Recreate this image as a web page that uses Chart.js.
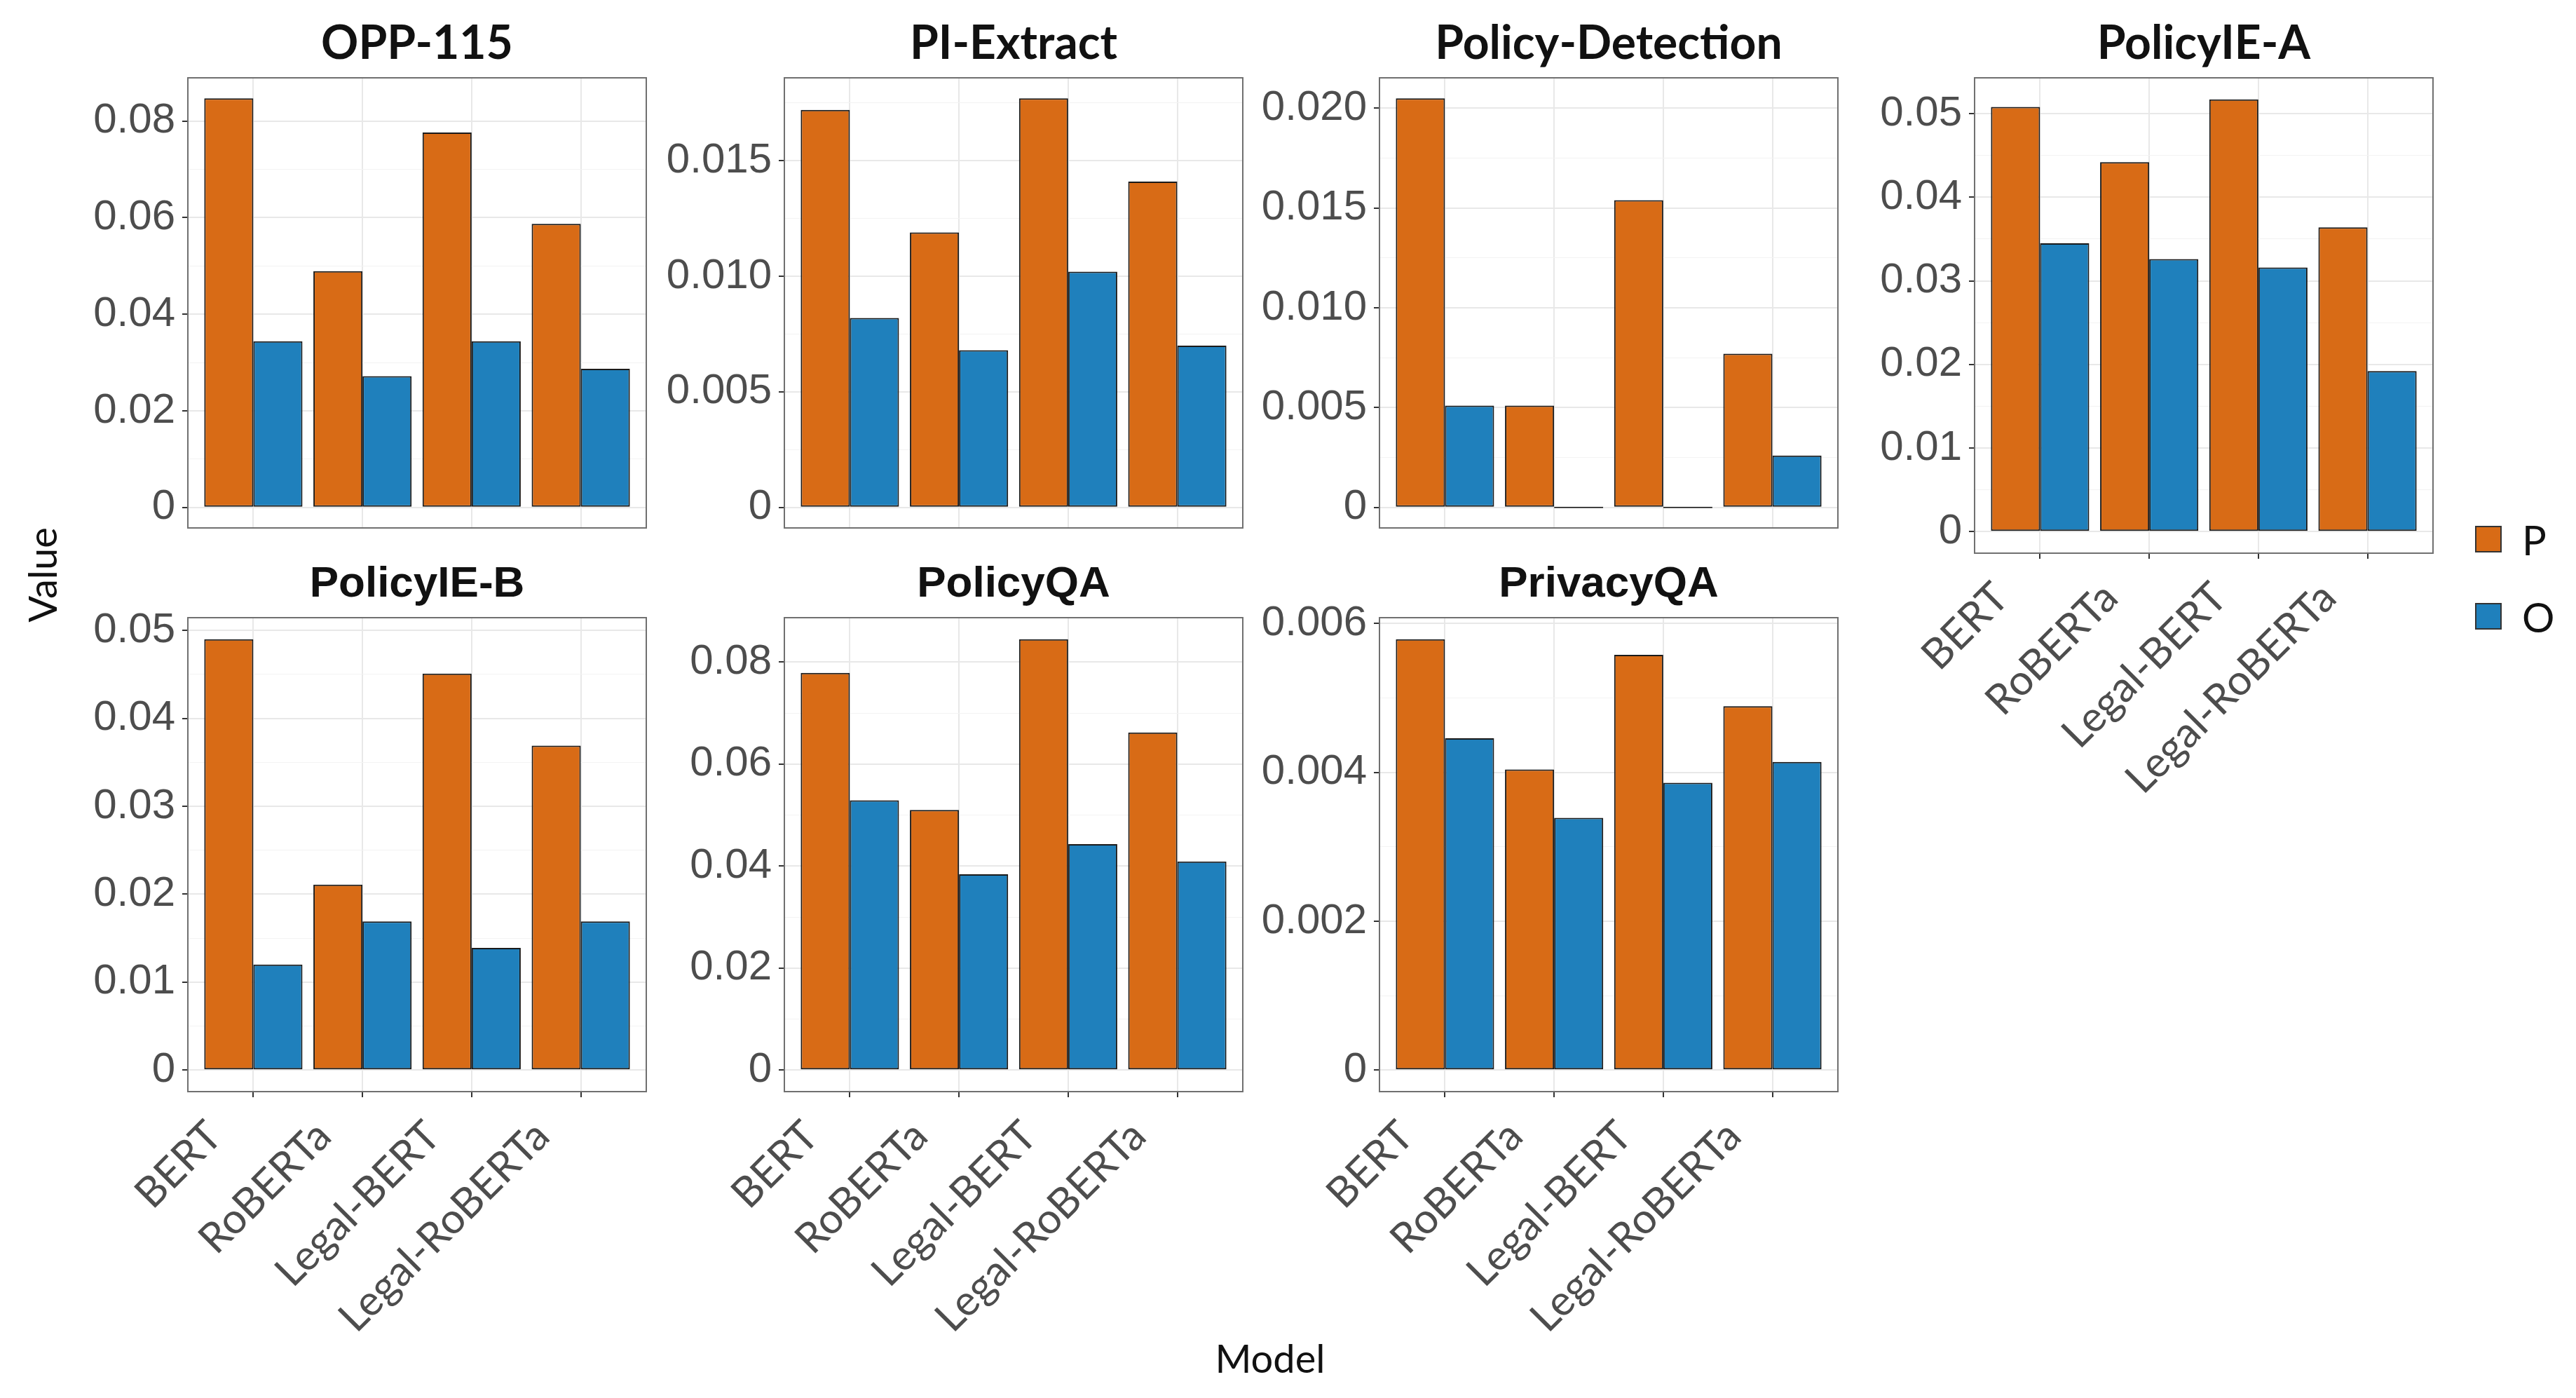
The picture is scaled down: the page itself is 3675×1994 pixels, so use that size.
<!DOCTYPE html>
<html>
<head>
<meta charset="utf-8">
<script src="https://cdn.jsdelivr.net/npm/chart.js@4.4.1/dist/chart.umd.min.js"></script>
<style>
html,body{margin:0;padding:0;background:#fff;width:3675px;height:1994px;overflow:hidden;position:relative;}
canvas{position:absolute;}
.lbl{position:absolute;font-family:Lato,"Open Sans",sans-serif;color:#111;white-space:nowrap;}
.key{position:absolute;box-sizing:border-box;border:2px solid #333;}
</style>
</head>
<body>
<div class="lbl" id="ylab" style="left:59px;top:820px;font-size:56px;transform:translate(-50%,-50%) rotate(-90deg);">Value</div>
<div class="lbl" id="xlab" style="left:1812px;top:1936px;font-size:56px;transform:translate(-50%,-50%);">Model</div>
<div class="key" id="keyP" style="left:3531px;top:750px;width:38px;height:38px;"></div>
<div class="key" id="keyO" style="left:3531px;top:860px;width:38px;height:38px;"></div>
<div class="lbl" id="legP" style="left:3598px;top:769px;font-size:58px;transform:translateY(-50%);"></div>
<div class="lbl" id="legO" style="left:3598px;top:879px;font-size:58px;transform:translateY(-50%);"></div>
<script>
// ---------------- data ----------------
const models = ['BERT', 'RoBERTa', 'Legal-BERT', 'Legal-RoBERTa'];
const seriesLabels = ['P', 'O'];
const panelNames = ['OPP-115', 'PI-Extract', 'Policy-Detection', 'PolicyIE-A', 'PolicyIE-B', 'PolicyQA', 'PrivacyQA'];

const opp115_P = [0.0847, 0.0489, 0.0776, 0.0587];
const opp115_O = [0.0344, 0.0272, 0.0344, 0.0287];
const piExtract_P = [0.0172, 0.0119, 0.0177, 0.0141];
const piExtract_O = [0.0082, 0.0068, 0.0102, 0.0070];
const policyDetection_P = [0.0205, 0.0051, 0.0154, 0.0077];
const policyDetection_O = [0.0051, 0, 0, 0.0026];
const policyIEA_P = [0.0508, 0.0442, 0.0517, 0.0364];
const policyIEA_O = [0.0345, 0.0326, 0.0316, 0.0192];
const policyIEB_P = [0.0490, 0.0211, 0.0451, 0.0369];
const policyIEB_O = [0.0120, 0.0169, 0.0139, 0.0169];
const policyQA_P = [0.0779, 0.0510, 0.0845, 0.0662];
const policyQA_O = [0.0529, 0.0384, 0.0443, 0.0409];
const privacyQA_P = [0.00579, 0.00404, 0.00558, 0.00489];
const privacyQA_O = [0.00446, 0.00339, 0.00386, 0.00414];

const opp115_ticks = [0, 0.02, 0.04, 0.06, 0.08];
const opp115_tickLabels = ['0', '0.02', '0.04', '0.06', '0.08'];
const piExtract_ticks = [0, 0.005, 0.010, 0.015];
const piExtract_tickLabels = ['0', '0.005', '0.010', '0.015'];
const policyDetection_ticks = [0, 0.005, 0.010, 0.015, 0.020];
const policyDetection_tickLabels = ['0', '0.005', '0.010', '0.015', '0.020'];
const policyIEA_ticks = [0, 0.01, 0.02, 0.03, 0.04, 0.05];
const policyIEA_tickLabels = ['0', '0.01', '0.02', '0.03', '0.04', '0.05'];
const policyIEB_ticks = [0, 0.01, 0.02, 0.03, 0.04, 0.05];
const policyIEB_tickLabels = ['0', '0.01', '0.02', '0.03', '0.04', '0.05'];
const policyQA_ticks = [0, 0.02, 0.04, 0.06, 0.08];
const policyQA_tickLabels = ['0', '0.02', '0.04', '0.06', '0.08'];
const privacyQA_ticks = [0, 0.002, 0.004, 0.006];
const privacyQA_tickLabels = ['0', '0.002', '0.004', '0.006'];

// ---------------- styles / layout ----------------
const COLORS = ['#D86B16', '#1F80BC'];
const BAR_BORDER = '#1a1a1a';
const TICK_FONT = {family: '"Liberation Sans", Arial, sans-serif', size: 60};
const XTICK_FONT = {family: 'Lato, sans-serif', size: 60};
const TICK_COLOR = '#4d4d4d';

document.getElementById('keyP').style.background = COLORS[0];
document.getElementById('keyO').style.background = COLORS[1];
document.getElementById('legP').textContent = seriesLabels[0];
document.getElementById('legO').textContent = seriesLabels[1];

const panels = [
  {P: opp115_P, O: opp115_O, ticks: opp115_ticks, labels: opp115_tickLabels},
  {P: piExtract_P, O: piExtract_O, ticks: piExtract_ticks, labels: piExtract_tickLabels},
  {P: policyDetection_P, O: policyDetection_O, ticks: policyDetection_ticks, labels: policyDetection_tickLabels},
  {P: policyIEA_P, O: policyIEA_O, ticks: policyIEA_ticks, labels: policyIEA_tickLabels},
  {P: policyIEB_P, O: policyIEB_O, ticks: policyIEB_ticks, labels: policyIEB_tickLabels},
  {P: policyQA_P, O: policyQA_O, ticks: policyQA_ticks, labels: policyQA_tickLabels},
  {P: privacyQA_P, O: privacyQA_O, ticks: privacyQA_ticks, labels: privacyQA_tickLabels}
];
const panelPos = [
  {left: 268, row: 0, xlab: false}, {left: 1119, row: 0, xlab: false},
  {left: 1968, row: 0, xlab: false}, {left: 2817, row: 0, xlab: true},
  {left: 268, row: 1, xlab: true}, {left: 1119, row: 1, xlab: true},
  {left: 1968, row: 1, xlab: true}
];
const rows = [
  {canvasTop: 0, boxBottom: 789, titleFont: {family: 'Lato, sans-serif', size: 66, weight: 'bold', lineHeight: 1.2}, pt: 23.4, pb: 8.4},
  {canvasTop: 792, boxBottom: 1557, titleFont: {family: '"Liberation Sans", Arial, sans-serif', size: 62, weight: 'bold', lineHeight: 1.2}, pt: 5, pb: 9.6}
];
const YW = 230, PADR = 230, BW = 654;

const framePlugin = {
  id: 'frame',
  afterDraw(chart) {
    const {ctx, chartArea: a} = chart;
    ctx.save();
    ctx.strokeStyle = '#707070';
    ctx.lineWidth = 2;
    ctx.strokeRect(a.left, a.top, a.right - a.left, a.bottom - a.top);
    ctx.restore();
  }
};

function near(a, b) { return Math.abs(a - b) < 1e-9; }

panels.forEach((p, i) => {
  const pos = panelPos[i];
  const row = rows[pos.row];
  const xH = pos.xlab ? 425 : 10;
  const W = YW + BW + PADR;
  const H = row.boxBottom - row.canvasTop + xH;
  const cv = document.createElement('canvas');
  cv.width = W; cv.height = H;
  cv.style.width = W + 'px'; cv.style.height = H + 'px';
  cv.style.left = (pos.left - YW) + 'px';
  cv.style.top = row.canvasTop + 'px';
  document.body.appendChild(cv);

  const dmax = Math.max(...p.P, ...p.O);
  const ymin = -0.05 * dmax, ymax = 1.05 * dmax;
  const step = p.ticks[1] - p.ticks[0];
  const yTickVals = [];
  for (let k = 0; k * step / 2 <= ymax + 1e-12; k++) yTickVals.push(k * step / 2);
  const isMajor = v => p.ticks.some(t => near(t, v));

  new Chart(cv, {
    type: 'bar',
    plugins: [framePlugin],
    data: {
      datasets: [
        {label: seriesLabels[0], data: p.P.map((v, j) => ({x: j + 1, y: v})), backgroundColor: COLORS[0]},
        {label: seriesLabels[1], data: p.O.map((v, j) => ({x: j + 1, y: v})), backgroundColor: COLORS[1]}
      ]
    },
    options: {
      responsive: false,
      animation: false,
      devicePixelRatio: 1,
      layout: {padding: 0},
      datasets: {
        bar: {
          categoryPercentage: 0.9, barPercentage: 1.0,
          borderColor: BAR_BORDER, borderWidth: 2, borderSkipped: false, minBarLength: 2
        }
      },
      plugins: {
        legend: {display: false},
        tooltip: {enabled: false},
        title: {
          display: true, text: panelNames[i], color: '#111',
          font: row.titleFont, padding: {top: row.pt, bottom: row.pb}
        }
      },
      scales: {
        x: {
          type: 'linear', min: 0.4, max: 4.6, offset: false,
          afterBuildTicks: s => { s.ticks = models.map((m, j) => ({value: j + 1})); },
          afterFit: s => { s.height = xH; },
          border: {display: false},
          grid: {offset: false, color: '#e8e8e8', lineWidth: 2, drawTicks: pos.xlab, tickLength: 8, tickColor: '#333', tickWidth: 2},
          ticks: {
            display: pos.xlab, autoSkip: false, maxRotation: 45, minRotation: 45,
            padding: 20, labelOffset: -55,
            font: XTICK_FONT, color: TICK_COLOR,
            callback: v => models[Math.round(v) - 1] || ''
          }
        },
        y: {
          min: ymin, max: ymax,
          afterBuildTicks: s => { s.ticks = yTickVals.map(v => ({value: v})); },
          afterFit: s => { s.width = YW; },
          border: {display: false},
          grid: {
            color: c => (c.tick && isMajor(c.tick.value)) ? '#e8e8e8' : '#f3f3f3',
            lineWidth: c => (c.tick && isMajor(c.tick.value)) ? 2 : 1,
            tickColor: c => (c.tick && isMajor(c.tick.value)) ? '#333' : 'rgba(0,0,0,0)',
            tickLength: 8, tickWidth: 2
          },
          ticks: {
            autoSkip: false, padding: 10, font: TICK_FONT, color: TICK_COLOR,
            callback: v => { const k = p.ticks.findIndex(t => near(t, v)); return k >= 0 ? p.labels[k] : ''; }
          }
        },
        yRight: {
          type: 'linear', position: 'right', display: true,
          afterFit: s => { s.width = PADR; },
          border: {display: false},
          grid: {drawOnChartArea: false, drawTicks: false},
          ticks: {display: false}
        }
      }
    }
  });
});
</script>
</body>
</html>
